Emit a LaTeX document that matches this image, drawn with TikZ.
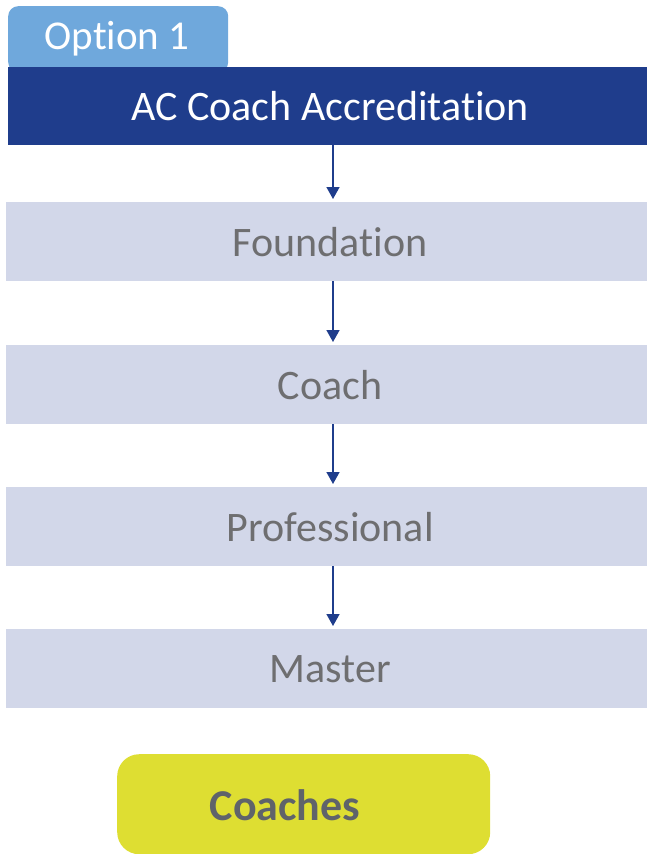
\documentclass[tikz,border=0pt]{standalone}
\usepackage{fontspec}
\setmainfont{Carlito}[Ligatures=NoCommon]
\usetikzlibrary{arrows.meta}
\definecolor{tabblue}{RGB}{111,168,220}
\definecolor{darkblue}{RGB}{31,61,140}
\definecolor{lightbox}{RGB}{210,215,233}
\definecolor{graytext}{RGB}{110,110,112}
\definecolor{lime}{RGB}{222,222,50}
\definecolor{coachtext}{RGB}{95,99,106}
\tikzset{
  level/.style={fill=lightbox, draw=none, minimum width=648pt, minimum height=79pt, inner sep=0pt, anchor=north west, text=graytext, font=\fontsize{42}{48}\selectfont},
  flow/.style={draw=darkblue, line width=1.6pt, -{Triangle[length=12pt,width=13pt]}, shorten >=3pt}
}
\begin{document}
\begin{tikzpicture}[x=1pt,y=-1pt]
\useasboundingbox (0,0) rectangle (646,854);
\node[fill=tabblue, rounded corners=10pt, minimum width=220pt, minimum height=66pt, inner sep=0pt, anchor=north west] (tab) at (8,6) {};
\node[text=white, font=\fontsize{41}{48}\selectfont] (tabtext) at (117,39) {Option 1};
\node[fill=darkblue, minimum width=644pt, minimum height=78pt, inner sep=0pt, anchor=north west, text=white, font=\fontsize{42}{48}\selectfont] (ac) at (8,67) {AC Coach Accreditation};
\node[level] (found) at (6,202) {Foundation};
\node[level] (coach) at (6,345) {Coach};
\node[level] (prof) at (6,487) {Professional};
\node[level] (master) at (6,629) {Master};
\node[fill=lime, rounded corners=22pt, minimum width=373pt, minimum height=100pt, inner sep=0pt, anchor=north west] (coaches) at (117,754) {};
\node[text=coachtext, font=\bfseries\fontsize{44}{50}\selectfont] (coachestext) at (285,805) {Coaches};
\draw[flow] (ac.south -| 333,0) -- (found.north -| 333,0);
\draw[flow] (found.south -| 333,0) -- (coach.north -| 333,0);
\draw[flow] (coach.south -| 333,0) -- (prof.north -| 333,0);
\draw[flow] (prof.south -| 333,0) -- (master.north -| 333,0);
\end{tikzpicture}
\end{document}
